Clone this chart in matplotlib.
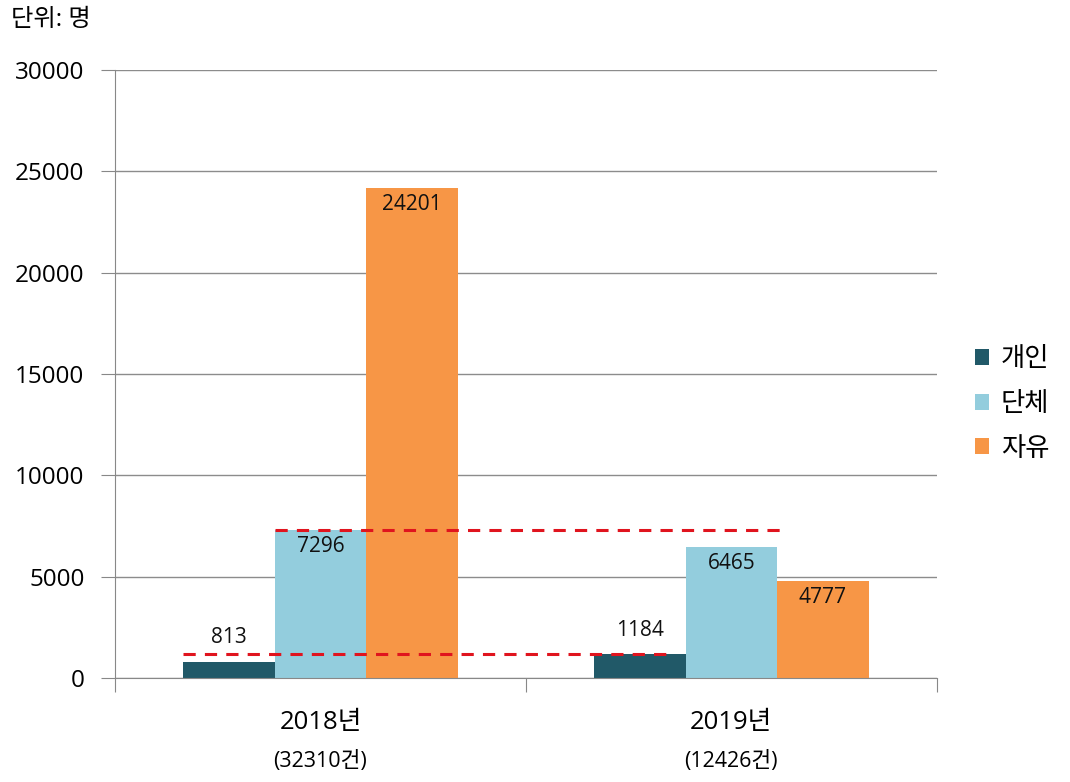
import matplotlib
matplotlib.use("Agg")
import matplotlib.pyplot as plt
import numpy as np

plt.rcParams['font.family'] = ['Open Sans', 'Noto Sans CJK KR', 'DejaVu Sans']

years = ["2018년", "2019년"]
cases = ["(32310건)", "(12426건)"]
series = ["개인", "단체", "자유"]
individual = [813, 1184]
group = [7296, 6465]
free = [24201, 4777]
colors = ["#215968", "#93CDDD", "#F79646"]

fig = plt.figure(figsize=(10.7, 7.82), dpi=100)
ax = fig.add_axes([0.1075, 0.133, 0.768, 0.7775])

x = np.arange(len(years))
w = 0.223
values = [individual, group, free]
for i, (name, vals, c) in enumerate(zip(series, values, colors)):
    pos = x + (i - 1) * w
    ax.bar(pos, vals, width=w, color=c, label=name, zorder=2)
    for p, v in zip(pos, vals):
        off = 17 if i == 0 else -12
        ax.annotate(str(v), (p, v), xytext=(0, off), textcoords="offset points",
                    ha="center", va="center", fontsize=15, color="#111111", zorder=4)

# red dashed reference lines
ax.plot([x[0] - 1.5 * w, x[1] - 0.65 * w], [individual[1]] * 2, ls=(0, (4, 3)), color="#E0141E", lw=2.2, zorder=3)
ax.plot([x[0] - 0.5 * w, x[1] + 0.56 * w], [group[0]] * 2, ls=(0, (4, 3)), color="#E0141E", lw=2.2, zorder=3)

ax.set_xlim(-0.5, 1.5)
ax.set_ylim(0, 30000)
ax.set_yticks(range(0, 30001, 5000))
ax.tick_params(axis="y", labelsize=17.5, length=10, color="#888888", pad=12)
ax.yaxis.grid(True, color="#8c8c8c", lw=1, zorder=0)
ax.set_xticks([-0.5, 0.5, 1.5])
ax.set_xticklabels([])
ax.tick_params(axis="x", length=10, color="#888888")
for s in ["top", "right"]:
    ax.spines[s].set_visible(False)
for s in ["left", "bottom"]:
    ax.spines[s].set_color("#888888")

for xi, yr, cs in zip(x, years, cases):
    ax.text(xi, -0.0724, yr, transform=ax.get_xaxis_transform(), ha="center", va="center", fontsize=18.5)
    ax.text(xi, -0.138, cs, transform=ax.get_xaxis_transform(), ha="center", va="center", fontsize=15.5)

fig.text(0.01, 0.974, "단위: 명", ha="left", va="center", fontsize=17.5)

ax.legend(loc="center left", bbox_to_anchor=(1.017, 0.45), frameon=False, fontsize=19,
          handlelength=0.55, handleheight=0.55, labelspacing=0.75, handletextpad=0.45)

fig.savefig("out.png", dpi=100)
